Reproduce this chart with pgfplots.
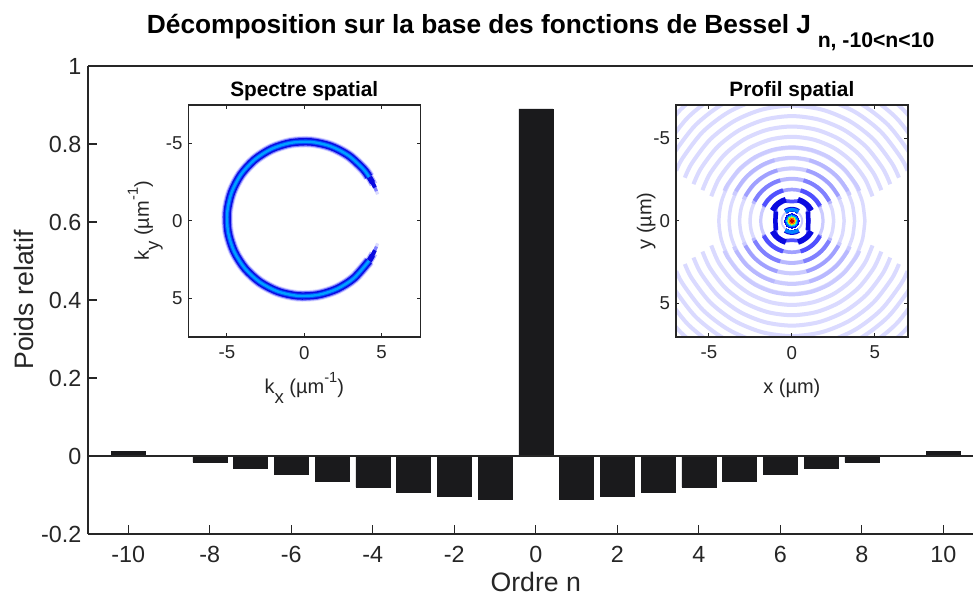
\documentclass[border=0pt]{standalone}
\usepackage{fontspec}
\setmainfont{Liberation Sans}
\usepackage{pgfplots}
\usepackage{pgfplotstable}
\pgfplotsset{compat=1.18}
\definecolor{axc}{HTML}{262626}
\definecolor{barc}{HTML}{1A1A1C}
\definecolor{rA}{HTML}{DADAFF}
\definecolor{rB}{HTML}{CBCBFF}
\definecolor{rC}{HTML}{B8B8FF}
\definecolor{rD}{HTML}{A0A0FF}
\definecolor{rE}{HTML}{8080FF}
\definecolor{rF}{HTML}{5050FF}
\definecolor{deep}{HTML}{0A0AE0}
\pgfplotstableread{
n v
-10 0.0128
-9 0.001
-8 -0.0154
-7 -0.031
-6 -0.047
-5 -0.064
-4 -0.0795
-3 -0.093
-2 -0.103
-1 -0.110
0 0.89
1 -0.110
2 -0.103
3 -0.093
4 -0.0795
5 -0.064
6 -0.047
7 -0.031
8 -0.0154
9 0.001
10 0.0128
}\weights
% spectrum: angle (deg) and radius of the ring crest
\pgfplotstableread{
th r
33 4.99
50 5.0
65 5.0
80 5.0
95 5.0
110 5.0
125 5.0
140 5.0
155 5.0
170 5.0
185 5.0
200 5.0
215 5.0
230 5.0
245 5.0
260 5.0
275 5.0
290 5.0
305 5.0
320 5.0
327 4.99
}\ring
% full circle
\newcommand{\Full}[3]{\addplot[smooth,data cs=polar,draw=#1,line width=#2] coordinates {(0,#3)(15,#3)(30,#3)(45,#3)(60,#3)(75,#3)(90,#3)(105,#3)(120,#3)(135,#3)(150,#3)(165,#3)(180,#3)(195,#3)(210,#3)(225,#3)(240,#3)(255,#3)(270,#3)(285,#3)(300,#3)(315,#3)(330,#3)(345,#3)(360,#3)};}
% upper and lower arc, from angle a to angle b
\newcommand{\Arcs}[5]{%
\addplot[smooth,data cs=polar,draw=#1,line width=#2] coordinates {(#4,#3)(30,#3)(45,#3)(60,#3)(75,#3)(90,#3)(105,#3)(120,#3)(135,#3)(150,#3)(#5,#3)};
\addplot[smooth,data cs=polar,draw=#1,line width=#2] coordinates {(-#4,#3)(-30,#3)(-45,#3)(-60,#3)(-75,#3)(-90,#3)(-105,#3)(-120,#3)(-135,#3)(-150,#3)(-#5,#3)};}
% the four diagonal lobes of one ring
\newcommand{\Diag}[3]{%
\addplot[smooth,data cs=polar,draw=#1,line width=#2] coordinates {(28,#3)(40,#3)(52,#3)(64,#3)(74,#3)};
\addplot[smooth,data cs=polar,draw=#1,line width=#2] coordinates {(106,#3)(116,#3)(128,#3)(140,#3)(152,#3)};
\addplot[smooth,data cs=polar,draw=#1,line width=#2] coordinates {(-28,#3)(-40,#3)(-52,#3)(-64,#3)(-74,#3)};
\addplot[smooth,data cs=polar,draw=#1,line width=#2] coordinates {(-106,#3)(-116,#3)(-128,#3)(-140,#3)(-152,#3)};}
% top/bottom lobes and side lobes
\newcommand{\TopBot}[3]{%
\addplot[smooth,data cs=polar,draw=#1,line width=#2] coordinates {(55,#3)(70,#3)(90,#3)(110,#3)(125,#3)};
\addplot[smooth,data cs=polar,draw=#1,line width=#2] coordinates {(-55,#3)(-70,#3)(-90,#3)(-110,#3)(-125,#3)};}
\newcommand{\Dot}[2]{\addplot[only marks,mark=*,mark size=#2,mark options={draw=#1,fill=#1,line width=0pt}] coordinates {(0,0)};}
\pgfplotsset{
  every axis title shift=0pt,
  rep/.style={
    scale only axis,
    axis line style={draw=axc,line width=1.15pt},
    tick style={draw=axc,line width=0.8pt},
    tick align=inside,
    /pgf/number format/assume math mode=true,
    tick label style={text=axc},
  },
  inset/.style={
    rep,
    width=174pt,height=173.8pt,
    y dir=reverse,
    axis on top,
    xtick={-5,0,5},ytick={-5,0,5},
    major tick length=2.8pt,
    tick label style={font=\fontsize{14}{16}\selectfont},
    xticklabel style={yshift=-3.5pt},
    yticklabel style={xshift=-0.8pt},
    axis background/.style={fill=white},
    title style={font=\fontsize{15.6}{18}\selectfont\bfseries,text=black,at={(axis description cs:0.5,1.035)},anchor=base},
    every axis x label/.style={at={(axis description cs:0.5,-0.245)},anchor=base,font=\fontsize{15}{18}\selectfont,text=axc},
    every axis y label/.style={at={(axis description cs:-0.17,0.5)},anchor=base,rotate=90,font=\fontsize{15}{18}\selectfont,text=axc},
  },
}
\newcommand{\sub}[1]{\raisebox{-0.5em}{\fontsize{14}{14}\selectfont #1}}
\newcommand{\sups}[1]{\raisebox{0.55em}{\fontsize{11}{11}\selectfont #1}}
\begin{document}
\begin{tikzpicture}
\path[use as bounding box] (0,0) rectangle (729.75pt,447.75pt);
\node[anchor=base west,inner sep=0pt,font=\fontsize{19.7}{22}\selectfont\bfseries,text=black] at (110pt,422.8pt) {Décomposition sur la base des fonctions de Bessel J\hspace{5pt}\raisebox{-10.5pt}{\fontsize{15.9}{18}\selectfont n, -10<n<10}};
\begin{axis}[rep,
  at={(66pt,47.25pt)},anchor=south west,
  width=663.75pt,height=351pt,
  xmin=-10.99,xmax=10.73,ymin=-0.2,ymax=1,
  axis y line*=left,
  xtick={-10,-8,-6,-4,-2,0,2,4,6,8,10},
  ytick={-0.2,0,0.2,0.4,0.6,0.8,1},
  xtick pos=bottom,ytick pos=left,
  major tick length=7pt,
  tick label style={font=\fontsize{17.5}{20}\selectfont},
  xticklabel style={yshift=-5.5pt},
  yticklabel style={xshift=-1.5pt},
  every axis x label/.style={at={(axis description cs:0.506,-0.122)},anchor=base,font=\fontsize{20}{22}\selectfont,text=axc},
  every axis y label/.style={at={(axis description cs:-0.062,0.5)},anchor=base,rotate=90,font=\fontsize{20}{22}\selectfont,text=axc},
  xlabel={Ordre n},ylabel={Poids relatif},
]
\addplot[ybar,bar width=0.834,bar shift=0pt,fill=barc,draw=barc,line width=0.3pt] table[x=n,y=v] {\weights};
\addplot[draw=axc,line width=0.9pt] coordinates {(-10.99,0)(10.73,0)};
\end{axis}
\begin{axis}[inset,
  at={(141.2pt,195.2pt)},anchor=south west,
  xmin=-7.5,xmax=7.5,ymin=-7.5,ymax=7.5,
  title={Spectre spatial},
  xlabel={k\sub{x} (µm\sups{-1})},ylabel={k\sub{y} (µm\sups{-1})},
]
% tapered ends of the ring
\addplot[smooth,data cs=polar,draw=rA,line width=2.4pt,yshift=1.5pt] coordinates {(25,5)(22,5)(18.5,5)};
\addplot[smooth,data cs=polar,draw=rA,line width=2.4pt,yshift=1.5pt] coordinates {(-25,5)(-22,5)(-18.5,5)};
\addplot[smooth,data cs=polar,draw=rE,line width=2.4pt,yshift=1.5pt] coordinates {(28,5)(25,5)(21,5)};
\addplot[smooth,data cs=polar,draw=rE,line width=2.4pt,yshift=1.5pt] coordinates {(-28,5)(-25,5)(-21,5)};
\addplot[smooth,data cs=polar,draw=rC,line width=6pt,yshift=1.5pt] coordinates {(36,5)(31,5)(26.5,5)};
\addplot[smooth,data cs=polar,draw=rC,line width=6pt,yshift=1.5pt] coordinates {(-36,5)(-31,5)(-26.5,5)};
\addplot[smooth,data cs=polar,draw=deep,line width=3pt,yshift=1.5pt] coordinates {(34,5)(29,5)(24,5)};
\addplot[smooth,data cs=polar,draw=deep,line width=3pt,yshift=1.5pt] coordinates {(-34,5)(-29,5)(-24,5)};
\addplot[smooth,data cs=polar,draw=deep,line width=4.2pt,yshift=1.5pt] coordinates {(38,5)(33,5)(28,5)};
\addplot[smooth,data cs=polar,draw=deep,line width=4.2pt,yshift=1.5pt] coordinates {(-38,5)(-33,5)(-28,5)};
% ring body
\addplot[smooth,data cs=polar,draw=rA,line width=8.6pt,yshift=1.5pt] table[x=th,y=r] {\ring};
\addplot[smooth,data cs=polar,draw=rE,line width=7.2pt,yshift=1.5pt] table[x=th,y=r] {\ring};
\addplot[smooth,data cs=polar,draw=deep,line width=5.6pt,yshift=1.5pt] table[x=th,y=r] {\ring};
\addplot[smooth,data cs=polar,draw={rgb,255:red,0;green,80;blue,255},line width=3.4pt,yshift=1.5pt] table[x=th,y=r] {\ring};
\addplot[smooth,data cs=polar,draw={rgb,255:red,0;green,160;blue,255},line width=1.8pt,yshift=1.5pt] table[x=th,y=r] {\ring};
\end{axis}
\begin{axis}[inset,
  at={(506.8pt,195.2pt)},anchor=south west,width=174.2pt,
  xmin=-7,xmax=7,ymin=-7,ymax=7,
  title={Profil spatial},
  xlabel={x (µm)},ylabel={y (µm)},
  every axis y label/.append style={at={(axis description cs:-0.105,0.5)}},
]
% outer ring arcs, stopping at the two empty side wedges
\Arcs{rA}{3pt}{9.5}{28}{152}
\Arcs{rA}{3pt}{8.85}{26.5}{153.5}
\Arcs{rA}{3pt}{8.2}{25}{155}
\Arcs{rA}{3pt}{7.6}{23.5}{156.5}
\Arcs{rA}{3pt}{6.96}{22}{158}
\Arcs{rA}{3pt}{6.33}{20.5}{159.5}
\Arcs{rA}{3pt}{5.7}{19}{161}
\Arcs{rA}{3pt}{5.08}{17}{163}
% inner rings are closed
\Full{rA}{2.6pt}{4.4}
\Full{rA}{2.6pt}{3.78}
\Full{rA}{2.6pt}{3.15}
\Full{rA}{2.6pt}{2.52}
\Full{rB}{2.4pt}{1.88}
\Full{rB}{1.4pt}{0.62}
% darker upper and lower parts
\Arcs{rB}{2.8pt}{4.45}{24}{156}
\Arcs{rB}{2.8pt}{3.82}{24}{156}
\Arcs{rB}{2.8pt}{3.18}{24}{156}
\Arcs{rC}{2.8pt}{2.55}{24}{156}
\Arcs{rD}{2.6pt}{1.9}{26}{154}
% diagonal lobes
\Diag{rC}{2.8pt}{3.82}
\Diag{rD}{2.8pt}{3.18}
\Diag{rE}{3pt}{2.55}
\Diag{rF}{3.2pt}{1.92}
% the first closed ring: near 1 on the x axis, near 1.35 on the diagonals
\addplot[smooth,data cs=polar,draw=rF,line width=2.8pt] coordinates {(0,1.0)(20,1.04)(35,1.2)(50,1.34)(65,1.32)(80,1.2)(90,1.17)(100,1.2)(115,1.32)(130,1.34)(145,1.2)(160,1.04)(180,1.0)(200,1.04)(215,1.2)(230,1.34)(245,1.32)(260,1.2)(270,1.17)(280,1.2)(295,1.32)(310,1.34)(325,1.2)(340,1.04)(360,1.0)};
\Diag{deep}{4.2pt}{1.33}
\addplot[smooth,data cs=polar,draw=deep,line width=3.4pt] coordinates {(-30,1.12)(-15,1.01)(0,1.0)(15,1.01)(30,1.12)};
\addplot[smooth,data cs=polar,draw=deep,line width=3.4pt] coordinates {(150,1.12)(165,1.01)(180,1.0)(195,1.01)(210,1.12)};
\TopBot{deep}{4.2pt}{0.68}
\TopBot{{rgb,255:red,0;green,130;blue,255}}{2.6pt}{0.68}
% central peak
\Dot{white}{6.4pt}
\Dot{{rgb,255:red,10;green,10;blue,235}}{5.4pt}
\Dot{{rgb,255:red,0;green,110;blue,255}}{4.5pt}
\Dot{{rgb,255:red,0;green,215;blue,235}}{3.8pt}
\Dot{{rgb,255:red,110;green,240;blue,110}}{3.1pt}
\Dot{{rgb,255:red,255;green,225;blue,0}}{2.6pt}
\Dot{{rgb,255:red,255;green,110;blue,0}}{2pt}
\Dot{{rgb,255:red,190;green,0;blue,0}}{1.4pt}
\end{axis}
\end{tikzpicture}
\end{document}
